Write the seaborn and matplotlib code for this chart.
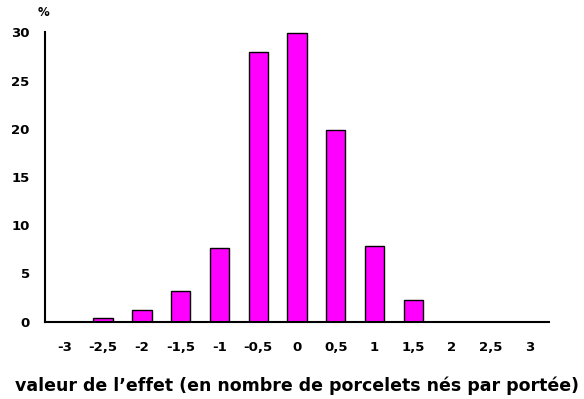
import numpy as np
import pandas as pd
import matplotlib
matplotlib.use('Agg')
import matplotlib.pyplot as plt
import seaborn as sns
from matplotlib.ticker import FixedLocator

# données
categories = ['-3', '-2,5', '-2', '-1,5', '-1', '-0,5', '0', '0,5', '1', '1,5', '2', '2,5', '3']
pourcentages = [0, 0.35, 1.25, 3.15, 7.6, 28.0, 29.9, 19.9, 7.9, 2.2, 0, 0, 0]
yticks = [0, 5, 10, 15, 20, 25, 30]

sns.set_style('white')
plt.rcParams['font.family'] = ['DejaVu Sans']
plt.rcParams['font.weight'] = 'bold'
plt.rcParams['text.color'] = 'black'
plt.rcParams['axes.labelcolor'] = 'black'
plt.rcParams['xtick.color'] = 'black'
plt.rcParams['ytick.color'] = 'black'

df = pd.DataFrame({'effet': categories, 'pct': pourcentages})

fig = plt.figure(figsize=(5.84, 3.99), dpi=100)
ax = fig.add_axes([0.077, 0.1937, 0.863, 0.7253])

sns.barplot(data=df, x='effet', y='pct', order=categories, color='#ff00ff',
            saturation=1, width=0.5, edgecolor='black', linewidth=1, ax=ax)

ax.set_xlim(-0.5, len(categories) - 0.5)
ax.set_ylim(0, 30)
ax.set_yticks(yticks)
ax.set_yticklabels([str(v) for v in yticks], fontsize=9.5, fontweight='bold')
ax.set_xticklabels(categories, fontsize=9.5, fontweight='bold')
ax.xaxis.set_minor_locator(FixedLocator(np.arange(-0.5, len(categories), 1.0)))
ax.tick_params(axis='x', which='major', length=0, pad=14, labelcolor='black')
ax.tick_params(axis='x', which='minor', length=5, width=1.5, direction='out', color='black')
ax.tick_params(axis='y', length=4, width=1.5, direction='out', color='black', pad=7,
               labelcolor='black')

for side in ['top', 'right']:
    ax.spines[side].set_visible(False)
for side in ['left', 'bottom']:
    ax.spines[side].set_color('black')
    ax.spines[side].set_linewidth(1.5)

ax.set_ylabel('')
ax.set_xlabel('valeur de l\u2019effet (en nombre de porcelets nés par portée)',
              fontsize=12.5, fontweight='bold', labelpad=16, color='black')
fig.text(44 / 584, 1 - 13 / 399, '%', fontsize=8.5, fontweight='bold', ha='center',
         va='center', color='black')

fig.savefig('out.png', dpi=100)
